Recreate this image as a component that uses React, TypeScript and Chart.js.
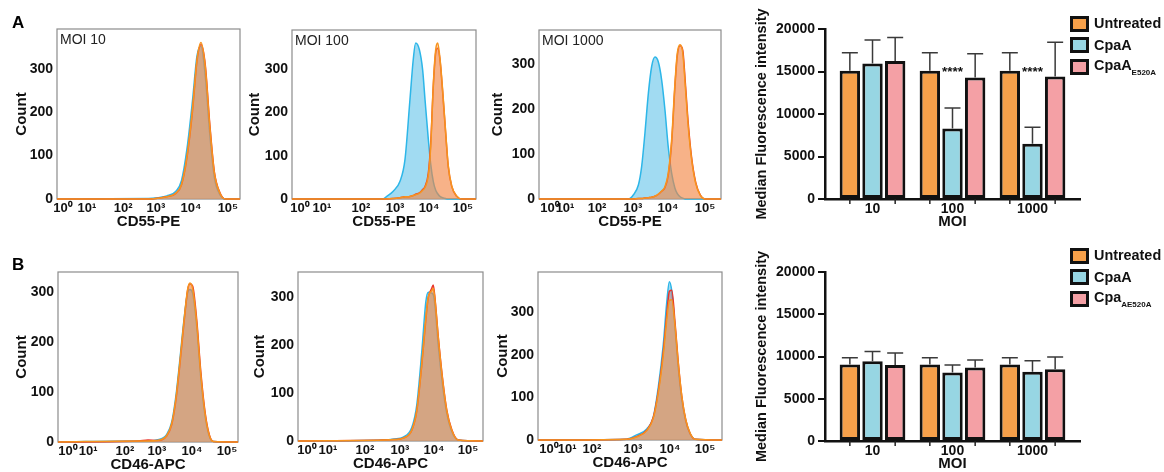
import React, { useEffect, useRef } from 'react';
import { Chart, registerables } from 'chart.js';

Chart.register(...registerables);

const FONT = "'Liberation Sans', Arial, Helvetica, sans-serif";
Chart.defaults.font.family = FONT;

// ---------- tick labels ----------
const HIST_TICK_LABELS = ['10⁰', '10¹', '10²', '10³', '10⁴', '10⁵'];
const COUNT_TICKS = [0, 100, 200, 300];
const MOI_CATEGORIES = ['10', '100', '1000'];

// tick positions on the display-channel axis (0-100) of each histogram
const a1Ticks = [3.3, 16.4, 36.1, 54.1, 73.2, 93.4];
const a2Ticks = [4.3, 16.3, 37.5, 56.0, 74.5, 92.9];
const a3Ticks = [6.0, 14.3, 31.9, 51.6, 70.9, 91.2];
const b1Ticks = [5.6, 16.7, 37.2, 55.0, 74.4, 93.9];
const b2Ticks = [4.9, 16.2, 36.2, 55.1, 73.5, 91.9];
const b3Ticks = [6.0, 15.8, 29.3, 51.6, 71.7, 90.8];

// ---------- histogram data (channel, count) ----------
const a1X = [0, 50, 55, 60, 65, 68, 71, 74, 76.5, 78.7, 81, 83.5, 86, 89, 92, 100];
const a1Unt = [0, 0, 2, 5, 14, 33, 98, 206, 322, 361, 306, 168, 60, 14, 0, 0];
const a1Cpa = [0, 1, 3, 7, 18, 42, 115, 225, 330, 352, 285, 150, 50, 10, 0, 0];
const a1E520 = [0, 0, 2, 5, 13, 32, 95, 200, 318, 356, 310, 172, 62, 15, 0, 0];

const a2X = [0, 49.5, 51.5, 55, 58.7, 61.4, 64.1, 65.9, 67.2, 69.2, 71, 72.3, 74.1, 75.4, 76.8, 78.1, 79.2, 80.4, 81.9, 83.5, 84.9, 86.8, 89.5, 92.2, 100];
const a2Cpa = [0, 0, 6, 18, 41, 91, 229, 322, 360, 345, 298, 229, 137, 80, 40, 20, 12, 6, 3, 1, 0, 0, 0, 0, 0];
const a2E520 = [0, 0, 0, 1, 3, 5, 6, 8, 11, 14, 22, 29, 60, 129, 260, 337, 348, 322, 245, 152, 75, 29, 6, 0, 0];
const a2Unt = [0, 0, 0, 1, 3, 5, 6, 8, 10, 13, 20, 27, 55, 122, 265, 345, 360, 325, 250, 155, 78, 30, 7, 0, 0];

const a3X = [0, 49.1, 51.8, 54.6, 56.4, 58.2, 60.1, 61.9, 63.7, 65.5, 67.4, 69.2, 71, 72.9, 74.7, 76, 77.5, 79, 80.4, 82, 83.9, 86.1, 88.5, 91.2, 100];
const a3Cpa = [0, 0, 9, 31, 72, 146, 235, 294, 315, 305, 264, 198, 116, 57, 24, 12, 5, 2, 0, 0, 0, 0, 0, 0, 0];
const a3Unt = [0, 0, 0, 1, 1, 2, 3, 4, 6, 11, 18, 27, 57, 132, 257, 324, 342, 324, 250, 161, 87, 35, 9, 0, 0];
const a3E520 = [0, 0, 0, 1, 1, 2, 3, 4, 6, 10, 17, 25, 52, 125, 250, 318, 340, 330, 258, 168, 90, 37, 10, 0, 0];

const b1X = [0, 44.6, 50, 54.8, 60.4, 63.2, 65.6, 67.8, 70, 72.1, 73.3, 74.8, 77.1, 79.3, 81.7, 84.1, 86.3, 100];
const b1Unt = [0, 2, 2, 3, 13, 37, 90, 163, 243, 307, 318, 307, 237, 137, 57, 13, 1, 0];
const b1Cpa = [0, 2, 2, 4, 15, 40, 95, 168, 245, 300, 305, 298, 230, 130, 52, 11, 1, 0];
const b1E520 = [0, 2, 4, 3, 12, 35, 86, 158, 238, 305, 316, 312, 243, 142, 60, 14, 1, 0];

const b2X = [0, 46.1, 52, 56.9, 61.5, 64.2, 66.9, 69.1, 70.4, 72.3, 73.1, 74.1, 75.8, 78.2, 80.4, 83.1, 86.6, 100];
const b2Unt = [0, 2, 3, 6, 23, 64, 161, 257, 300, 313, 318, 292, 216, 126, 64, 23, 2, 0];
const b2Cpa = [0, 2, 4, 8, 28, 75, 185, 290, 310, 308, 305, 280, 200, 115, 58, 20, 2, 0];
const b2E520 = [0, 2, 3, 6, 22, 62, 158, 252, 298, 318, 325, 295, 218, 128, 65, 24, 2, 0];

const b3X = [0, 48.2, 53.6, 59.1, 62.7, 65.4, 68.1, 69.9, 71.4, 72.7, 74.5, 76.2, 78.1, 80.3, 82.6, 85.3, 100];
const b3Cpa = [0, 2, 12, 26, 55, 125, 225, 320, 372, 350, 262, 172, 96, 44, 15, 2, 0];
const b3Unt = [0, 2, 7, 22, 52, 112, 200, 280, 328, 330, 268, 182, 105, 48, 17, 2, 0];
const b3E520 = [0, 2, 8, 23, 54, 116, 208, 292, 350, 352, 275, 184, 104, 47, 16, 2, 0];

// ---------- bar chart data (median fluorescence intensity) ----------
const cd55Untreated = [15100, 15100, 15100];
const cd55UntreatedErr = [17200, 17200, 17200];
const cd55CpaA = [15950, 8300, 6500];
const cd55CpaAErr = [18700, 10700, 8450];
const cd55E520A = [16250, 14300, 14400];
const cd55E520AErr = [19000, 17100, 18450];
const cd55Sig = ['', '****', '****'];

const cd46Untreated = [9050, 9050, 9050];
const cd46UntreatedErr = [9850, 9850, 9850];
const cd46CpaA = [9450, 8100, 8200];
const cd46CpaAErr = [10600, 9000, 9500];
const cd46E520A = [9000, 8700, 8500];
const cd46E520AErr = [10400, 9600, 9950];
const cd46Sig = ['', '', ''];

// ---------- styles ----------
const HIST_COLORS = {
  unt: { line: '#F7941E', fill: 'rgba(245,162,72,0.42)' },
  e520: { line: '#E8352B', fill: 'rgba(232,80,60,0.37)' },
  cpa: { line: '#2DB6E8', fill: 'rgba(110,200,235,0.65)' },
};
const BAR_COLORS = ['#F6A04A', '#97D6E3', '#F4A0A5'];

const X_AXIS_H = 32;
const PAD_TOP = 6;
const PAD_RIGHT = 6;
const TITLE_HALF = 9;

type HistPanel = {
  x: number[]; unt: number[]; cpa: number[]; e520: number[]; ticks: number[];
  ymax: number; xTitle: string; moi: string;
  box: [number, number, number, number]; countX: number;
};

const HIST_PANELS: HistPanel[] = [
  { x: a1X, unt: a1Unt, cpa: a1Cpa, e520: a1E520, ticks: a1Ticks, ymax: 392, xTitle: 'CD55-PE', moi: 'MOI 10', box: [57, 29, 240, 199], countX: 22 },
  { x: a2X, unt: a2Unt, cpa: a2Cpa, e520: a2E520, ticks: a2Ticks, ymax: 390, xTitle: 'CD55-PE', moi: 'MOI 100', box: [292, 30, 476, 199], countX: 255 },
  { x: a3X, unt: a3Unt, cpa: a3Cpa, e520: a3E520, ticks: a3Ticks, ymax: 375, xTitle: 'CD55-PE', moi: 'MOI 1000', box: [539, 30, 721, 199], countX: 498 },
  { x: b1X, unt: b1Unt, cpa: b1Cpa, e520: b1E520, ticks: b1Ticks, ymax: 340, xTitle: 'CD46-APC', moi: '', box: [58, 272, 238, 442], countX: 22 },
  { x: b2X, unt: b2Unt, cpa: b2Cpa, e520: b2E520, ticks: b2Ticks, ymax: 352, xTitle: 'CD46-APC', moi: '', box: [298, 272, 483, 441], countX: 260 },
  { x: b3X, unt: b3Unt, cpa: b3Cpa, e520: b3E520, ticks: b3Ticks, ymax: 395, xTitle: 'CD46-APC', moi: '', box: [538, 272, 722, 440], countX: 503 },
];

const boxPlugin = {
  id: 'histBox',
  beforeDatasetsDraw(chart: any) {
    const { ctx, chartArea: a } = chart;
    ctx.save();
    ctx.strokeStyle = '#8c8c8c';
    ctx.lineWidth = 1.2;
    ctx.strokeRect(a.left, a.top, a.right - a.left, a.bottom - a.top);
    ctx.restore();
  },
};

function noPad(s: any) {
  s.paddingTop = 0;
  s.paddingBottom = 0;
  s.paddingLeft = 0;
  s.paddingRight = 0;
}

function histConfig(p: HistPanel, yAxisW: number): any {
  const pts = (ys: number[]) => p.x.map((x, i) => ({ x, y: ys[i] }));
  const ds = (label: string, ys: number[], c: { line: string; fill: string }) => ({
    label, data: pts(ys), borderColor: c.line, backgroundColor: c.fill, fill: 'origin',
    borderWidth: 1.5, pointRadius: 0, cubicInterpolationMode: 'monotone', clip: 4,
  });
  return {
    type: 'line',
    data: {
      datasets: [
        ds('Untreated', p.unt, HIST_COLORS.unt),
        ds('CpaA E520A', p.e520, HIST_COLORS.e520),
        ds('CpaA', p.cpa, HIST_COLORS.cpa),
      ],
    },
    options: {
      responsive: false,
      animation: false,
      layout: { padding: { top: PAD_TOP, right: PAD_RIGHT, left: 0, bottom: 0 } },
      plugins: { legend: { display: false }, tooltip: { enabled: false } },
      scales: {
        x: {
          type: 'linear', min: 0, max: 100,
          afterBuildTicks: (s: any) => { s.ticks = p.ticks.map((v) => ({ value: v })); },
          afterFit: (s: any) => { s.height = X_AXIS_H; noPad(s); },
          ticks: { callback: (_v: any, i: number) => HIST_TICK_LABELS[i], font: { size: 13, weight: 'bold', family: FONT }, color: '#111', padding: 2, maxRotation: 0, autoSkip: false },
          grid: { display: false, drawTicks: false },
          border: { display: false },
          title: { display: true, text: p.xTitle, font: { size: 15, weight: 'bold', family: FONT }, color: '#111', padding: 0 },
        },
        y: {
          min: 0, max: p.ymax,
          afterBuildTicks: (s: any) => { s.ticks = COUNT_TICKS.map((v) => ({ value: v })); },
          afterFit: (s: any) => { s.width = yAxisW; noPad(s); },
          ticks: { font: { size: 14, weight: 'bold', family: FONT }, color: '#111', padding: 4, autoSkip: false },
          grid: { display: false, drawTicks: false },
          border: { display: false },
          title: { display: true, text: 'Count', font: { size: 15, weight: 'bold', family: FONT }, color: '#111', padding: 0 },
        },
      },
    },
    plugins: [boxPlugin],
  };
}

function barExtras(errs: number[][], sig: string[], sigLevel: number, yTitle: string) {
  return {
    id: 'barExtras',
    afterDatasetsDraw(chart: any) {
      const { ctx, chartArea, scales } = chart;
      const y = scales.y;
      ctx.save();
      chart.data.datasets.forEach((_ds: any, i: number) => {
        const meta = chart.getDatasetMeta(i);
        meta.data.forEach((el: any, j: number) => {
          const yTop = y.getPixelForValue(errs[i][j]);
          ctx.strokeStyle = '#3a3a3a';
          ctx.lineWidth = 1.5;
          ctx.beginPath();
          ctx.moveTo(el.x, el.y);
          ctx.lineTo(el.x, yTop);
          ctx.moveTo(el.x - 8, yTop);
          ctx.lineTo(el.x + 8, yTop);
          ctx.stroke();
          if (i !== 1) {
            ctx.strokeStyle = '#222';
            ctx.beginPath();
            ctx.moveTo(el.x, chartArea.bottom);
            ctx.lineTo(el.x, chartArea.bottom + 5);
            ctx.stroke();
          }
          if (i === 1 && sig[j]) {
            ctx.fillStyle = '#111';
            ctx.font = `bold 13.5px ${FONT}`;
            ctx.textAlign = 'center';
            ctx.textBaseline = 'alphabetic';
            ctx.fillText(sig[j], el.x, y.getPixelForValue(sigLevel) + 5);
          }
        });
      });
      // y-axis title, drawn unsqueezed
      ctx.fillStyle = '#111';
      ctx.font = `bold 14.5px ${FONT}`;
      ctx.textAlign = 'center';
      ctx.textBaseline = 'middle';
      ctx.translate(9, (chartArea.top + chartArea.bottom) / 2);
      ctx.rotate(-Math.PI / 2);
      ctx.fillText(yTitle, 0, 0);
      ctx.restore();
    },
  };
}

function barConfig(vals: number[][], errs: number[][], sig: string[], sigLevel: number, xMin: number, xMax: number, padTop: number): any {
  const names = ['Untreated', 'CpaA', 'CpaA E520A'];
  const tickFont = { size: 14, weight: 'bold' as const, family: FONT };
  return {
    type: 'bar',
    data: {
      datasets: vals.map((v, i) => ({
        label: names[i],
        data: v.map((y, k) => ({ x: k, y })),
        backgroundColor: BAR_COLORS[i],
        borderColor: '#111',
        borderWidth: 3,
        borderSkipped: false,
        barPercentage: 0.9,
        categoryPercentage: 0.85,
      })),
    },
    options: {
      responsive: false,
      animation: false,
      layout: { padding: { top: padTop, right: 5, left: 0, bottom: 0 } },
      plugins: { legend: { display: false }, tooltip: { enabled: false } },
      scales: {
        x: {
          type: 'linear', min: xMin, max: xMax, offset: false,
          afterBuildTicks: (s: any) => { s.ticks = MOI_CATEGORIES.map((_c, i) => ({ value: i })); },
          afterFit: (s: any) => { s.height = 32; noPad(s); },
          ticks: { callback: (v: number) => MOI_CATEGORIES[Math.round(v)], font: tickFont, color: '#111', padding: 2, maxRotation: 0, autoSkip: false },
          grid: { display: false, drawTicks: false, offset: false },
          border: { display: true, color: '#111', width: 2.5 },
          title: { display: true, text: 'MOI', font: { size: 15, weight: 'bold', family: FONT }, color: '#111', padding: 0 },
        },
        y: {
          min: 0, max: 20000,
          afterFit: (s: any) => { s.width = 72; noPad(s); },
          ticks: { stepSize: 5000, callback: (v: number) => String(v), font: tickFont, color: '#111', padding: 3 },
          grid: { drawOnChartArea: false, drawTicks: true, tickLength: 7, color: '#111', lineWidth: 2 },
          border: { display: true, color: '#111', width: 2.5 },
          title: { display: false },
        },
      },
    },
    plugins: [barExtras(errs, sig, sigLevel, 'Median Fluorescence intensity')],
  };
}

function ChartCanvas({ config, left, top, width, height }: { config: any; left: number; top: number; width: number; height: number }) {
  const ref = useRef<HTMLCanvasElement>(null);
  useEffect(() => {
    const chart = new Chart(ref.current as HTMLCanvasElement, config);
    return () => chart.destroy();
  }, []);
  return (
    <canvas ref={ref} width={width} height={height}
      style={{ position: 'absolute', left, top, width, height, display: 'block' }} />
  );
}

function Legend({ left, top, third }: { left: number; top: number; third: [string, string] }) {
  const items: [string, string, string][] = [
    ['Untreated', '', BAR_COLORS[0]],
    ['CpaA', '', BAR_COLORS[1]],
    [third[0], third[1], BAR_COLORS[2]],
  ];
  return (
    <div style={{ position: 'absolute', left, top, font: `bold 14.4px ${FONT}`, color: '#111' }}>
      {items.map(([label, sub, color]) => (
        <div key={label + sub} style={{ display: 'flex', alignItems: 'center', height: 21.5, whiteSpace: 'nowrap' }}>
          <span style={{ display: 'inline-block', width: 13, height: 10, border: '3px solid #111', background: color, marginRight: 5 }} />
          <span style={{ lineHeight: '15px' }}>
            {label}
            {sub && <span style={{ fontSize: 8, position: 'relative', top: 5 }}>{sub}</span>}
          </span>
        </div>
      ))}
    </div>
  );
}

export default function App() {
  const hist = HIST_PANELS.map((p, idx) => {
    const left = p.countX - TITLE_HALF;
    const yAxisW = p.box[0] - left;
    const top = p.box[1] - PAD_TOP;
    const width = yAxisW + (p.box[2] - p.box[0]) + PAD_RIGHT;
    const height = PAD_TOP + (p.box[3] - p.box[1]) + X_AXIS_H;
    return (
      <ChartCanvas key={'h' + idx} config={histConfig(p, yAxisW)} left={left} top={top} width={width} height={height} />
    );
  });

  const moiLabels = HIST_PANELS.filter((p) => p.moi).map((p) => (
    <div key={p.moi} style={{ position: 'absolute', left: p.box[0] + 3, top: p.box[1] + 3, font: `14px ${FONT}`, lineHeight: '14px', color: '#222' }}>{p.moi}</div>
  ));

  return (
    <div style={{ position: 'absolute', left: 0, top: 0, width: 1164, height: 472, background: '#fff', overflow: 'hidden' }}>
      {hist}
      {moiLabels}
      <ChartCanvas
        config={barConfig([cd55Untreated, cd55CpaA, cd55E520A], [cd55UntreatedErr, cd55CpaAErr, cd55E520AErr], cd55Sig, 15100, -0.594, 2.594, 24)}
        left={753} top={5} width={332} height={226} />
      <ChartCanvas
        config={barConfig([cd46Untreated, cd46CpaA, cd46E520A], [cd46UntreatedErr, cd46CpaAErr, cd46E520AErr], cd46Sig, 0, -0.594, 2.594, 27)}
        left={753} top={245} width={332} height={228} />
      <Legend left={1070} top={13} third={['CpaA', 'E520A']} />
      <Legend left={1070} top={245} third={['Cpa', 'AE520A']} />
      <div style={{ position: 'absolute', left: 12, top: 14, font: `bold 17px ${FONT}`, lineHeight: '17px' }}>A</div>
      <div style={{ position: 'absolute', left: 12, top: 256, font: `bold 17px ${FONT}`, lineHeight: '17px' }}>B</div>
    </div>
  );
}
